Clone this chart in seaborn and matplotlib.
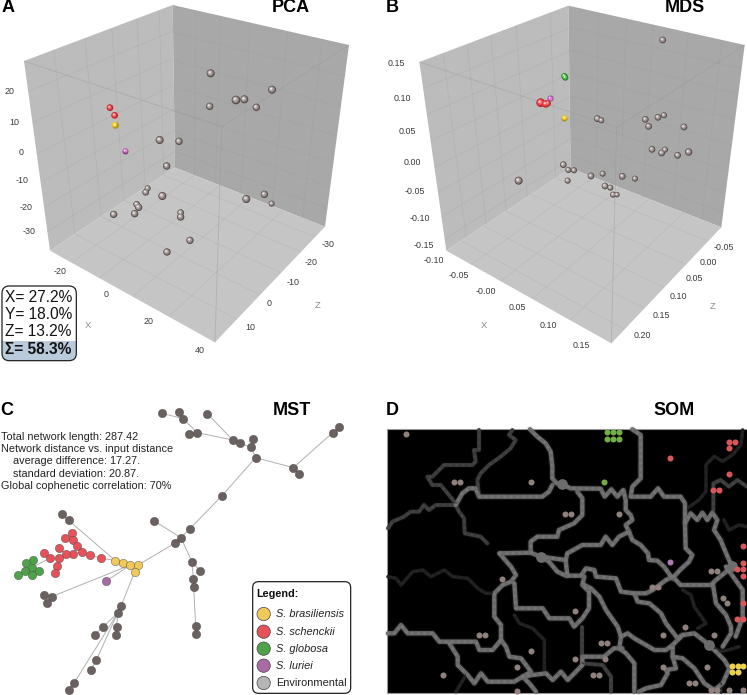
import numpy as np
import pandas as pd
import seaborn as sns
import matplotlib
matplotlib.use("Agg")
import matplotlib.pyplot as plt
from matplotlib.collections import LineCollection
from matplotlib.patches import FancyBboxPatch, Polygon, Rectangle

sns.set_theme(style="white")
plt.rcParams["font.family"] = ["Liberation Sans", "DejaVu Sans"]

# ---- ordination scores, as projected onto each panel's viewing plane ----
pca_env_x = [632, 816, 708, 733, 629, 769, 479, 537, 500, 443, 437, 487, 410, 416, 404, 341, 542, 542, 739, 793, 815, 570, 501]
pca_env_y = [220, 269, 300, 298, 319, 322, 420, 424, 498, 565, 577, 588, 613, 622, 641, 643, 638, 651, 597, 583, 611, 721, 756]
pca_env_r = [12, 12, 13, 12, 11, 11, 12, 11, 11, 9, 10, 12, 10, 11, 11, 11, 10, 11, 12, 11, 9, 11, 11]
pca_sch_x, pca_sch_y = [330, 344], [323, 346]
pca_bra_x, pca_bra_y = [344], [374]
pca_lur_x, pca_lur_y = [375], [452]

mds_env_x = [866, 670, 682, 814, 824, 852, 870, 930, 834, 863, 873, 911, 944, 568, 583, 600, 581, 434, 651, 686, 745, 783, 693, 709, 717, 729]
mds_env_y = [120, 356, 361, 358, 379, 352, 346, 381, 448, 459, 449, 466, 456, 494, 510, 511, 542, 542, 528, 521, 529, 536, 558, 563, 584, 584]
mds_env_r = [10, 10, 9, 10, 10, 10, 9, 10, 10, 10, 9, 10, 11, 10, 9, 9, 9, 12, 10, 9, 10, 9, 10, 9, 9, 8]
mds_sch_x, mds_sch_y = [500, 515, 522], [308, 312, 310]
mds_bra_x, mds_bra_y = [570], [353]
mds_lur_x, mds_lur_y = [528], [294]
mds_glo_x, mds_glo_y = [571, 574], [228, 233]

# ---- tick labels ----
pca_y_ticks = ["20", "10", "0", "-10", "-20", "-30"]
pca_x_ticks = ["-20", "0", "20", "40"]
pca_z_ticks = ["-30", "-20", "-10", "0", "10"]
mds_y_ticks = ["0.15", "0.10", "0.05", "0.00", "-0.05", "-0.10", "-0.15"]
mds_x_ticks = ["-0.10", "-0.05", "-0.00", "0.05", "0.10", "0.15"]
mds_z_ticks = ["-0.05", "0.00", "0.05", "0.10", "0.15", "0.20"]

variance_labels = ["X= 27.2%", "Y= 18.0%", "Z= 13.2%"]
variance_total = "Σ= 58.3%"
network_stats = ["Total network length: 287.42", "Network distance vs. input distance",
                 "    average difference: 17.27.", "    standard deviation: 20.87.",
                 "Global cophenetic correlation: 70%"]
species_names = ["S. brasiliensis", "S. schenckii", "S. globosa", "S. luriei", "Environmental"]

# ---- minimum spanning tree ----
mst_env_x = [487, 537, 549, 622, 568, 592, 698, 720, 758, 753, 767, 880, 897, 998, 1016, 666, 570, 461, 543, 526, 185, 206, 576, 601, 580, 581, 587, 588, 132, 155, 141, 363, 353, 310, 284, 350, 349, 289, 273, 223, 208]
mst_env_y = [130, 126, 146, 131, 191, 188, 210, 219, 208, 232, 263, 293, 311, 188, 172, 377, 476, 452, 503, 519, 433, 451, 576, 603, 628, 651, 769, 792, 675, 680, 698, 708, 729, 770, 794, 770, 794, 870, 901, 938, 960]
mst_sch_x = [215, 195, 219, 232, 177, 246, 219, 197, 269, 304, 132, 150, 177, 171, 164]
mst_sch_y = [488, 503, 511, 529, 535, 547, 552, 552, 556, 564, 548, 564, 565, 587, 609]
mst_bra_x = [346, 368, 391, 414, 404]
mst_bra_y = [572, 579, 585, 585, 606]
mst_glo_x = [98, 77, 96, 75, 116, 54, 95]
mst_glo_y = [570, 579, 593, 603, 603, 614, 615]
mst_lur_x, mst_lur_y = [319], [633]

mst_branches = [
    [(487, 130), (549, 146), (592, 188), (698, 210), (720, 219), (753, 232), (767, 263), (666, 377), (570, 476), (543, 503), (526, 519), (414, 585), (391, 585), (368, 579), (346, 572), (304, 564), (269, 556), (246, 547), (232, 529), (219, 511), (215, 488)],
    [(537, 126), (549, 146)], [(568, 191), (592, 188)], [(622, 131), (698, 210)], [(758, 208), (753, 232)],
    [(767, 263), (880, 293), (897, 311)], [(880, 293), (998, 188), (1016, 172)],
    [(461, 452), (543, 503), (576, 576), (580, 628), (581, 651), (587, 769), (588, 792)], [(576, 576), (601, 603)],
    [(346, 572), (206, 451), (185, 433)], [(391, 585), (155, 680), (132, 675)], [(155, 680), (141, 698)],
    [(391, 585), (319, 633)], [(414, 585), (404, 606), (363, 708), (353, 729), (310, 770), (284, 794)],
    [(353, 729), (350, 770), (349, 794)], [(353, 729), (289, 870), (273, 901)], [(353, 729), (223, 938), (208, 960)],
    [(219, 511), (195, 503)], [(246, 547), (219, 552), (197, 552), (177, 565), (171, 587), (164, 609)],
    [(197, 552), (177, 535)], [(177, 565), (150, 564), (132, 548)], [(150, 564), (96, 593), (98, 570)],
    [(77, 579), (96, 593), (95, 615)], [(116, 603), (96, 593), (75, 603), (54, 614)],
]

# ---- self-organising map: samples and cluster borders of the U-matrix ----
som_env_x = [97, 239, 259, 472, 574, 592, 736, 384, 604, 314, 332, 472, 428, 207, 428, 604, 681, 699, 692, 658, 676, 1010, 1029, 834, 853, 1048, 1060, 933, 868, 1021, 868, 1000, 944, 962, 1010, 1029, 1065, 1108]
som_env_y = [191, 336, 336, 336, 433, 433, 433, 626, 722, 795, 795, 843, 891, 915, 964, 867, 819, 819, 867, 915, 915, 602, 602, 650, 650, 684, 698, 771, 795, 795, 891, 891, 940, 940, 960, 960, 960, 960]
som_glo_x = [698, 717, 736, 698, 717, 736, 691]
som_glo_y = [186, 186, 186, 207, 207, 207, 336]
som_sch_x = [1065, 1084, 1065, 889, 1065, 1018, 1035, 1106, 1106, 1088, 1106, 1106, 1106, 1088, 1106]
som_sch_y = [215, 215, 235, 263, 312, 360, 360, 529, 579, 598, 598, 617, 698, 746, 746]
som_lur_x, som_lur_y = [889], [577]
som_bra_x = [1073, 1091, 1108, 1073, 1091]
som_bra_y = [887, 887, 887, 906, 906]
som_hubs_x = [565, 500, 1075, 1006]
som_hubs_y = [343, 560, 588, 825]

som_strong = [
    [(468, 178), (490, 200), (515, 220), (530, 245), (535, 290), (535, 325), (548, 340), (568, 345), (590, 355), (680, 356), (692, 380), (712, 358), (730, 380), (748, 360), (755, 390), (755, 420), (770, 435), (775, 450), (755, 465), (765, 485), (775, 510), (800, 525), (822, 550), (825, 570), (850, 572), (870, 590), (895, 625), (918, 600), (945, 575), (955, 555), (935, 535), (933, 460), (950, 430), (970, 450), (985, 428), (1000, 450), (1015, 428), (1030, 450), (1020, 480), (1040, 510), (1050, 535), (1065, 570), (1075, 590)],
    [(775, 178), (800, 195), (800, 325), (775, 350), (770, 380), (830, 380), (852, 355), (870, 380), (920, 380), (933, 400), (933, 460)],
    [(245, 405), (265, 370), (285, 355), (305, 355), (315, 380), (505, 380), (525, 365), (535, 345)],
    [(470, 548), (470, 515), (490, 500), (550, 500), (555, 480), (600, 460), (625, 435), (625, 385), (610, 365)],
    [(380, 550), (470, 548), (500, 560), (525, 575), (550, 605), (575, 617), (621, 617), (636, 595), (661, 600), (666, 620), (726, 625), (741, 665), (781, 670), (816, 670), (836, 660), (876, 630), (896, 620), (920, 645), (1016, 645)],
    [(500, 560), (575, 570), (580, 550), (625, 525), (680, 525), (695, 500), (715, 525), (735, 500), (765, 485)],
    [(575, 570), (580, 617)],
    [(376, 550), (411, 590), (426, 615), (411, 635), (386, 645), (361, 670), (361, 740), (381, 765), (381, 810), (356, 840), (316, 840), (306, 815), (196, 815), (176, 790), (101, 790), (81, 765), (61, 790), (42, 790)],
    [(421, 640), (426, 715), (506, 715), (526, 745), (586, 745), (600, 770), (625, 745), (645, 715), (645, 665), (625, 645), (631, 620)],
    [(631, 645), (651, 655), (676, 680), (696, 720), (731, 770), (741, 800), (761, 790), (781, 805), (816, 825), (841, 840), (876, 840), (896, 825), (926, 795), (961, 790), (1006, 825), (1051, 870), (1066, 895), (1046, 940), (1021, 960), (991, 940), (961, 895), (926, 865), (896, 860), (896, 825)],
    [(741, 800), (736, 835), (756, 850), (781, 880), (781, 965)],
    [(781, 670), (791, 695), (826, 700), (861, 730), (876, 760), (911, 805), (926, 795)],
    [(896, 860), (906, 895), (876, 900), (881, 910), (861, 945), (816, 955), (795, 965)],
    [(1075, 590), (1026, 630), (1016, 640), (1026, 700), (1056, 735), (1071, 770), (1071, 790), (1046, 830)],
    [(1056, 590), (1106, 660), (1106, 740), (1096, 770), (1085, 800)],
    [(226, 820), (251, 860), (251, 885), (281, 915), (301, 940), (321, 910), (341, 935), (421, 935), (446, 920), (476, 915), (516, 910), (536, 930), (561, 905), (581, 930), (601, 910), (625, 885), (625, 860), (690, 860), (720, 835), (745, 835)],
    [(381, 810), (396, 830), (406, 860), (441, 865), (471, 905), (446, 920), (466, 940), (486, 965)],
]
som_medium = [
    [(42, 475), (55, 455), (90, 440), (110, 425), (135, 425), (150, 405), (165, 420), (185, 405), (245, 405)],
    [(315, 380), (310, 330), (320, 310), (345, 285), (380, 260), (410, 235), (425, 210), (405, 195), (415, 180)],
    [(315, 180), (315, 240), (300, 240), (305, 275), (295, 285), (210, 285), (175, 320), (160, 320), (175, 345), (200, 345), (225, 375), (245, 400)],
    [(245, 405), (255, 425), (270, 445), (272, 490), (320, 500), (340, 520)],
    [(623, 770), (623, 860)],
    [(626, 880), (686, 885), (711, 920), (711, 965)],
    [(1018, 420), (1018, 340), (1040, 330), (1065, 350), (1090, 330), (1119, 350)],
]
som_faint = [
    [(42, 620), (66, 625), (81, 645), (116, 605), (146, 600), (171, 620), (211, 600), (236, 620), (281, 625), (311, 655), (336, 670), (361, 670)],
    [(421, 735), (436, 760), (476, 775), (511, 810), (511, 900)],
    [(926, 660), (951, 675), (961, 710), (996, 760), (971, 775)],
    [(941, 414), (976, 389), (996, 364), (996, 284), (1021, 259), (1046, 274), (1076, 254), (1101, 224), (1106, 180)],
    [(1050, 450), (1065, 480), (1095, 465), (1119, 470)],
    [(246, 965), (276, 915)],
    [(1040, 940), (1040, 965)],
    [(1006, 825), (1040, 845), (1070, 838), (1095, 830)],
]

# sphere shading, from the rim inward
SPHERE = {
    "env": ("#4f4645", "#857a78", "#ada3a1", "#e8e3e2"),
    "sch": ("#b22024", "#dc3236", "#f06064", "#ffc4c4"),
    "bra": ("#b39412", "#e6c01e", "#f8d83c", "#fff2a8"),
    "lur": ("#8c3c88", "#bc5cb4", "#d884d0", "#fad8f4"),
    "glo": ("#1f7420", "#3a9e36", "#64c058", "#d4f2c4"),
}
NODE = {"env": "#6a6160", "sch": "#e5525a", "bra": "#f2ca5a", "glo": "#4ea34a", "lur": "#a96ba6"}
SOM_DOT = {"env": "#8f817c", "sch": "#d9565a", "bra": "#ecd34e", "glo": "#72ad48", "lur": "#b078b0"}

fig = plt.figure(figsize=(7.47, 6.95), dpi=100)
W, H = 747.0, 695.0


def panel(left, top, width, height):
    """Axes covering a pixel rectangle, with coordinates at three units per pixel."""
    ax = fig.add_axes([left / W, 1 - (top + height) / H, width / W, height / H])
    ax.axis("off")
    return ax


def mix(p, q, t):
    return (p[0] + (q[0] - p[0]) * t, p[1] + (q[1] - p[1]) * t)


def wall(ax, a, b, c, d, colour, along, across):
    """Wall a-b-c-d with grid lines; a-b and d-c are the long rails."""
    ax.add_patch(Polygon([a, b, c, d], closed=True, fc=colour, ec="none", zorder=1))
    segs = []
    for t in along:
        segs.append([mix(a, b, t), mix(d, c, t)])
    for t in across:
        segs.append([mix(a, d, t), mix(b, c, t)])
    ax.add_collection(LineCollection(segs, colors="#8f8f8f", linewidths=0.5, alpha=0.2, zorder=2))


def spheres(ax, x, y, kind, r=10):
    rim, low, body, hi = SPHERE[kind]
    frame = pd.DataFrame({"x": np.asarray(x, float), "y": np.asarray(y, float),
                          "r": np.asarray(r, float) * np.ones(len(x))})
    unit = 0.72 / 3  # coordinate units to points
    layers = [(rim, 2.0, 0.0, 6), (low, 1.65, -0.06, 7), (body, 1.2, -0.14, 8), (hi, 0.6, -0.24, 9)]
    for colour, scale, shift, order in layers:
        sns.scatterplot(x=frame["x"] + shift * frame["r"], y=frame["y"] + shift * frame["r"], ax=ax, color=colour,
                        linewidth=0, legend=False, s=(scale * frame["r"] * unit) ** 2, zorder=order)
    ax.set_xlabel("")
    ax.set_ylabel("")


def box3d(ax, c, left_along, left_across, right_along, right_across, floor_a, floor_b):
    wall(ax, c["lt"], c["bt"], c["bb"], c["lb"], "#bcbcbc", left_along, left_across)
    wall(ax, c["bt"], c["rt"], c["rb"], c["bb"], "#a8a8a8", right_along, right_across)
    wall(ax, c["lb"], c["bb"], c["rb"], c["fb"], "#c5c5c5", floor_a, floor_b)
    front = [[c["lt"], c["ft"]], [c["ft"], c["rt"]], [c["ft"], c["fb"]]]
    ax.add_collection(LineCollection(front, colors="#979797", linewidths=0.6, alpha=0.45, zorder=3))


def labels(ax, texts, xs, ys, **kw):
    for t, x, y in zip(texts, xs, ys):
        ax.text(x, y, t, ha="center", va="center", **kw)


def fix_limits(ax, width, height):
    ax.set_xlim(0, width * 3)
    ax.set_ylim(height * 3, 0)


TICK = dict(fontsize=6.4, color="#3a3a3a")
AXNAME = dict(fontsize=6.8, color="#8a8a8a")
HEAD = dict(fontsize=13, fontweight="bold", color="black", ha="center", va="center")

# ---- A: PCA ----
axA = panel(0, 0, 374, 370)
box3d(axA, dict(lt=(72, 183), bt=(518, 15), rt=(1047, 135), ft=(665, 380), lb=(150, 752), bb=(525, 503), rb=(975, 680), fb=(645, 1027)),
      [.20, .41, .59, .76, .91], [.16, .325, .49, .64, .77, .90],
      [.13, .27, .44, .65, .85], [.17, .34, .5, .65, .78, .90],
      [.2, .41, .6, .78, .91], [.13, .3, .5, .72])
spheres(axA, pca_env_x, pca_env_y, "env", pca_env_r)
spheres(axA, pca_sch_x, pca_sch_y, "sch", 10)
spheres(axA, pca_bra_x, pca_bra_y, "bra", 10)
spheres(axA, pca_lur_x, pca_lur_y, "lur", 9)
labels(axA, pca_y_ticks, [28, 43, 63, 65, 77, 88], [275, 368, 457, 541, 621, 696], **TICK)
labels(axA, pca_x_ticks, [180, 317, 447, 598], [813, 884, 963, 1051], **TICK)
labels(axA, pca_z_ticks, [983, 932, 878, 807, 752], [733, 788, 847, 911, 983], **TICK)
axA.text(265, 977, "X", ha="center", va="center", **AXNAME)
axA.text(952, 917, "Z", ha="center", va="center", **AXNAME)
axA.text(24, 22, "A", **HEAD)
axA.text(873, 22, "PCA", **HEAD)

card = FancyBboxPatch((6, 858), 223, 224, boxstyle="round,pad=0,rounding_size=22", fc="white", ec="none", zorder=10)
axA.add_patch(card)
band = Rectangle((6, 1022), 223, 60, fc="#b9cbdb", ec="none", zorder=11)
axA.add_patch(band)
band.set_clip_path(card)
axA.add_patch(FancyBboxPatch((6, 858), 223, 224, boxstyle="round,pad=0,rounding_size=22", fc="none", ec="#222222", lw=0.9, zorder=12))
for label, y in zip(variance_labels, [892, 943, 995]):
    axA.text(15, y, label, fontsize=11.2, color="#111111", ha="left", va="center", zorder=13)
axA.text(15, 1049, variance_total, fontsize=11.2, fontweight="bold", color="#111111", ha="left", va="center", zorder=13)
fix_limits(axA, 374, 370)

# ---- B: MDS ----
axB = panel(374, 0, 373, 370)
box3d(axB, dict(lt=(136, 186), bt=(583, 17), rt=(1112, 135), ft=(728, 382), lb=(217, 752), bb=(590, 505), rb=(1042, 682), fb=(712, 1030)),
      [.16, .32, .48, .65, .88], [.14, .28, .42, .56, .69, .82, .94],
      [.17, .33, .48, .68, .87], [.13, .27, .41, .55, .69, .81, .92],
      [.12, .3, .48, .68, .88], [.15, .33, .52, .75])
spheres(axB, mds_env_x, mds_env_y, "env", mds_env_r)
spheres(axB, mds_sch_x, mds_sch_y, "sch", [13, 11, 9])
spheres(axB, mds_glo_x, mds_glo_y, "glo", 9)
spheres(axB, mds_bra_x, mds_bra_y, "bra", 9)
spheres(axB, mds_lur_x, mds_lur_y, "lur", 9)
labels(axB, mds_y_ticks, [68, 84, 100, 114, 124, 137, 149], [192, 296, 394, 487, 574, 656, 735], **TICK)
labels(axB, mds_x_ticks, [179, 256, 337, 430, 523, 623], [782, 827, 874, 924, 978, 1036], **TICK)
labels(axB, mds_z_ticks, [1050, 1004, 960, 913, 861, 806], [742, 788, 836, 889, 945, 1006], **TICK)
axB.text(331, 977, "X", ha="center", va="center", **AXNAME)
axB.text(1017, 920, "Z", ha="center", va="center", **AXNAME)
axB.text(56, 22, "B", **HEAD)
axB.text(934, 22, "MDS", **HEAD)
fix_limits(axB, 373, 370)

# ---- C: MST ----
axC = panel(0, 370, 374, 325)
axC.add_collection(LineCollection(mst_branches, colors="#b0b0b0", linewidths=0.7, zorder=1))
for xs, ys, kind in [(mst_env_x, mst_env_y, "env"), (mst_sch_x, mst_sch_y, "sch"), (mst_bra_x, mst_bra_y, "bra"),
                     (mst_glo_x, mst_glo_y, "glo"), (mst_lur_x, mst_lur_y, "lur")]:
    sns.scatterplot(x=xs, y=ys, ax=axC, color=NODE[kind], s=36, edgecolor="#4a4444", linewidth=0.3, legend=False, zorder=3)
axC.set_xlabel("")
axC.set_ylabel("")
for line, y in zip(network_stats, [201, 238, 274, 311, 348]):
    axC.text(4, y, line, fontsize=7.85, color="#222222", ha="left", va="center")
axC.text(20, 122, "C", **HEAD)
axC.text(875, 122, "MST", **HEAD)

axC.add_patch(FancyBboxPatch((758, 635), 294, 335, boxstyle="round,pad=0,rounding_size=18", fc="white", ec="#222222", lw=0.9, zorder=4))
axC.text(770, 672, "Legend:", fontsize=7.8, fontweight="bold", color="#111111", ha="left", va="center", zorder=5)
legend_y = [732, 785, 836, 887, 939]
legend_colours = [NODE["bra"], NODE["sch"], NODE["glo"], NODE["lur"], "#b5b5b5"]
sns.scatterplot(x=[791] * 5, y=legend_y, ax=axC, hue=species_names, palette=legend_colours, s=92,
                edgecolor="#444444", linewidth=0.5, legend=False, zorder=5)
axC.set_xlabel("")
axC.set_ylabel("")
for name, y in zip(species_names, legend_y):
    axC.text(827, y, name, fontsize=7.9, color="#222222", ha="left", va="center", zorder=5,
             style="normal" if name == "Environmental" else "italic")
fix_limits(axC, 374, 325)

# ---- D: SOM ----
axD = panel(374, 370, 373, 325)
axD.add_patch(Rectangle((38, 176), 1100, 794, fc="black", ec="#9a9a9a", lw=0.8, zorder=1))
for group, base, bead, width, halo in [(som_faint, "#1f1f1f", "#262626", 2.6, 0.0),
                                       (som_medium, "#3a3a3a", "#444444", 2.8, 0.06),
                                       (som_strong, "#686868", "#747474", 3.2, 0.14)]:
    for path in group:
        px, py = zip(*path)
        if halo:
            axD.plot(px, py, color="#777777", lw=width + 1.8, alpha=halo, solid_capstyle="round", solid_joinstyle="round", zorder=2)
        axD.plot(px, py, color=base, lw=width, solid_capstyle="round", solid_joinstyle="round", zorder=3)
        axD.plot(px, py, color=bead, lw=width - 0.8, linestyle=(0, (0.01, 6.3 / ((width - 0.8) * 1.39))),
                 dash_capstyle="round", zorder=4)
sns.scatterplot(x=som_hubs_x, y=som_hubs_y, ax=axD, color="#6c6c6c", s=60, linewidth=0, legend=False, zorder=5)
for xs, ys, kind in [(som_env_x, som_env_y, "env"), (som_sch_x, som_sch_y, "sch"), (som_glo_x, som_glo_y, "glo"),
                     (som_bra_x, som_bra_y, "bra"), (som_lur_x, som_lur_y, "lur")]:
    sns.scatterplot(x=xs, y=ys, ax=axD, color=SOM_DOT[kind], s=19, linewidth=0, legend=False, zorder=6)
axD.set_xlabel("")
axD.set_ylabel("")
axD.text(56, 122, "D", **HEAD)
axD.text(900, 122, "SOM", **HEAD)
fix_limits(axD, 373, 325)

fig.savefig("out.png", dpi=100)
